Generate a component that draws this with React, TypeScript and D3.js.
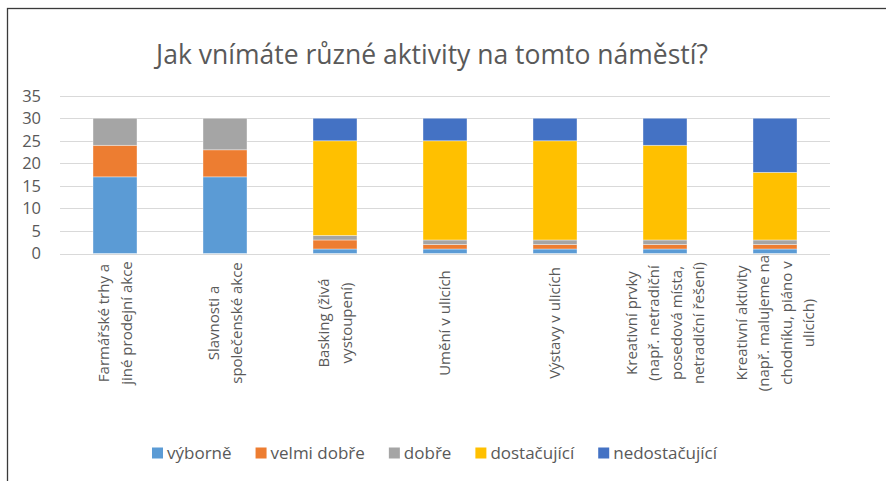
import React, { useLayoutEffect, useRef, useState } from "react";
import * as d3 from "d3";

const categories: string[][] = [
  ["Farmářské trhy a", "jiné prodejní akce"],
  ["Slavnosti a", "společenské akce"],
  ["Basking (živá", "vystoupení)"],
  ["Umění v ulicích"],
  ["Výstavy v ulicích"],
  ["Kreativní prvky", "(např. netradiční", "posedová místa,", "netradiční řešení)"],
  ["Kreativní aktivity", "(např. malujeme na", "chodníku, piáno v", "ulicích)"],
];

const seriesNames = ["výborně", "velmi dobře", "dobře", "dostačující", "nedostačující"];
const seriesColors = ["#5B9BD5", "#ED7D31", "#A5A5A5", "#FFC000", "#4472C4"];

const vyborne = [17, 17, 1, 1, 1, 1, 1];
const velmiDobre = [7, 6, 2, 1, 1, 1, 1];
const dobre = [6, 7, 1, 1, 1, 1, 1];
const dostacujici = [0, 0, 21, 22, 22, 21, 15];
const nedostacujici = [0, 0, 5, 5, 5, 6, 12];

const yTicks = [0, 5, 10, 15, 20, 25, 30, 35];

const W = 886;
const H = 481;
const FONT = "'Open Sans', sans-serif";
const TEXT = "#595959";

export default function App() {
  const legendRefs = useRef<(SVGTextElement | null)[]>([]);
  const [legendW, setLegendW] = useState<number[]>([70, 94, 52, 84, 103]);

  useLayoutEffect(() => {
    const ws = legendRefs.current.map((el) => (el ? el.getComputedTextLength() : 0));
    if (ws.some((w, i) => Math.abs(w - legendW[i]) > 0.5)) setLegendW(ws);
  }, []);

  const plot = { left: 60, right: 830, top: 95.7, bottom: 253.5 };

  const x = d3
    .scaleBand<number>()
    .domain(d3.range(categories.length))
    .range([plot.left, plot.right])
    .paddingInner(0.6)
    .paddingOuter(0.3);

  const y = d3.scaleLinear().domain([0, 35]).range([plot.bottom, plot.top]);

  const rows = categories.map((_, i) => ({
    i,
    s0: vyborne[i],
    s1: velmiDobre[i],
    s2: dobre[i],
    s3: dostacujici[i],
    s4: nedostacujici[i],
  }));
  const stack = d3.stack<any>().keys(["s0", "s1", "s2", "s3", "s4"])(rows);

  const lineH = 22.5;
  const labelY = 323;

  // legend: square 11px, 4px to text, 24px between items
  const sq = 11;
  const itemW = legendW.map((w) => sq + 4 + w);
  const legendGap = 24;
  const legendTotal = d3.sum(itemW) + legendGap * (itemW.length - 1);
  let lx = 434.5 - legendTotal / 2;
  const legendPos = itemW.map((w) => {
    const p = lx;
    lx += w + legendGap;
    return p;
  });

  return (
    <div style={{ position: "fixed", left: 0, top: 0 }}>
      <svg width={W} height={H} style={{ display: "block", fontFamily: FONT }}>
        <rect x={0} y={0} width={W} height={H} fill="#fff" />
        <rect x={7.5} y={8.5} width={920} height={520} fill="#fff" stroke="#3a3a3a" strokeWidth={1.3} />

        <text x={432} y={64} textAnchor="middle" fontSize={26.5} fill={TEXT}>
          Jak vnímáte různé aktivity na tomto náměstí?
        </text>

        {yTicks.map((t) => (
          <g key={t}>
            <line x1={plot.left} x2={plot.right} y1={Math.round(y(t)) + 0.5} y2={Math.round(y(t)) + 0.5} stroke="#D9D9D9" strokeWidth={1} />
            <text x={41} y={y(t)} dy="0.36em" textAnchor="end" fontSize={16.5} fill={TEXT}>
              {t}
            </text>
          </g>
        ))}

        {stack.map((layer, k) => (
          <g key={k} fill={seriesColors[k]}>
            {layer.map((d, i) =>
              d[1] - d[0] > 0 ? (
                <rect
                  key={i}
                  x={x(i)}
                  y={y(d[1])}
                  width={x.bandwidth()}
                  height={y(d[0]) - y(d[1])}
                  stroke="#fff"
                  strokeOpacity={0.5}
                  strokeWidth={0.75}
                />
              ) : null
            )}
          </g>
        ))}

        {categories.map((lines, i) => {
          const cx = (x(i) as number) + x.bandwidth() / 2;
          return (
            <g key={i}>
              {lines.map((ln, j) => (
                <text
                  key={j}
                  transform={`translate(${cx + (j - (lines.length - 1) / 2) * lineH},${labelY}) rotate(-90)`}
                  textAnchor="middle"
                  dy="0.35em"
                  fontSize={15}
                  fill={TEXT}
                >
                  {ln}
                </text>
              ))}
            </g>
          );
        })}

        {seriesNames.map((name, k) => (
          <g key={name} transform={`translate(${legendPos[k]},453)`}>
            <rect x={0} y={-sq / 2} width={sq} height={sq} fill={seriesColors[k]} />
            <text
              ref={(el) => {
                legendRefs.current[k] = el;
              }}
              x={sq + 4}
              dy="0.36em"
              fontSize={17}
              fill={TEXT}
            >
              {name}
            </text>
          </g>
        ))}
      </svg>
    </div>
  );
}
